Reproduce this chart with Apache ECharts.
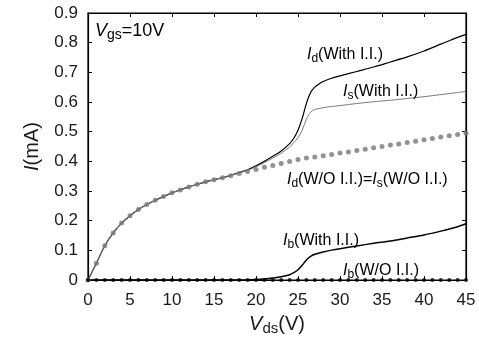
<!DOCTYPE html>
<html>
<head>
<meta charset="utf-8">
<script src="https://cdn.jsdelivr.net/npm/echarts@6/dist/echarts.min.js"></script>
<style>html,body{margin:0;padding:0;background:#fff}#c{width:479px;height:341px}</style>
</head>
<body>
<div id="c"></div>
<script>
// ---- data ----
var xTicks = [0, 5, 10, 15, 20, 25, 30, 35, 40, 45];
var vdsWO = [];
for (var k = 0; k <= 45; k++) vdsWO.push(k);
var idWO = [0, 0.057, 0.116, 0.159, 0.192, 0.217, 0.238, 0.255, 0.269, 0.282, 0.294, 0.304, 0.314, 0.323, 0.331, 0.338, 0.345,
  0.352, 0.359, 0.366, 0.373, 0.380, 0.386, 0.393, 0.400, 0.406, 0.411, 0.415, 0.419, 0.423, 0.428,
  0.432, 0.437, 0.441, 0.446, 0.450, 0.455, 0.459, 0.464, 0.468, 0.473, 0.477, 0.482, 0.486, 0.491, 0.495];
var ibWO = [0,0,0,0,0,0,0,0,0,0,0,0,0,0,0,0,0,0,0,0,0,0,0,0,0,0,0,0,0,0,0,0,0,0,0,0,0,0,0,0,0,0,0,0,0,0];

var vdsWith = [0,1,2,3,4,5,6,7,8,9,10,11,12,13,14,15,16,17,18,19,20,21,22,23,24,24.5,25,25.5,26,26.5,27,27.5,28,29,30,32,34,36,38,40,42,44,45];
var idWith = [0, 0.057, 0.116, 0.159, 0.192, 0.217, 0.238, 0.255, 0.269, 0.282, 0.294, 0.304, 0.314, 0.323, 0.331, 0.338, 0.345,
  0.353, 0.362, 0.372, 0.385, 0.400, 0.417, 0.435, 0.460, 0.478, 0.505, 0.545, 0.595, 0.632, 0.650, 0.661, 0.669, 0.680, 0.688,
  0.703, 0.718, 0.735, 0.752, 0.772, 0.795, 0.818, 0.828];
var isWith = [0, 0.057, 0.116, 0.159, 0.192, 0.217, 0.238, 0.255, 0.269, 0.282, 0.294, 0.304, 0.314, 0.323, 0.331, 0.338, 0.345,
  0.353, 0.361, 0.370, 0.382, 0.396, 0.411, 0.428, 0.448, 0.463, 0.480, 0.505, 0.542, 0.566, 0.575, 0.578, 0.581, 0.585, 0.588,
  0.595, 0.601, 0.606, 0.612, 0.618, 0.625, 0.632, 0.636];
var ibWith = [0,0,0,0,0,0,0,0,0,0,0,0,0,0,0,0,0,0,0,0.001,0.002,0.004,0.007,0.011,0.018,0.025,0.035,0.050,0.068,0.080,0.087,0.091,0.095,0.101,0.106,
  0.115,0.124,0.132,0.142,0.152,0.165,0.180,0.190];

function pairs(xs, ys) { return xs.map(function (x, i) { return [x, ys[i]]; }); }

var FF = '"Liberation Sans", Arial, sans-serif';
var C = '#1a1a1a';
function richSz(sz) {
  return {
    i: { fontFamily: FF, fontSize: sz, fontStyle: 'italic', color: C, lineHeight: sz + 4, verticalAlign: 'middle' },
    s: { fontFamily: FF, fontSize: Math.round(sz * 0.75), color: C, lineHeight: Math.round(sz * 0.75) + 1, verticalAlign: 'bottom' },
    n: { fontFamily: FF, fontSize: sz, color: C, lineHeight: sz + 4, verticalAlign: 'middle' }
  };
}
function note(txt, x, y, r) {
  return { type: 'text', x: x, y: y, z: 100, style: { text: txt, rich: r || richSz(16), verticalAlign: 'middle', align: 'left' } };
}

var chart = echarts.init(document.getElementById('c'));
chart.setOption({
  animation: false,
  backgroundColor: '#fff',
  grid: { left: 88, right: 13, top: 13, bottom: 53, show: true, borderColor: '#000', borderWidth: 1.2, backgroundColor: 'transparent' },
  xAxis: [{
    type: 'value', min: 0, max: 45, interval: 5, position: 'bottom',
    name: '{i|V}{s|ds}{n|(V)}', nameLocation: 'middle', nameGap: 29,
    nameTextStyle: { rich: richSz(20) },
    axisLine: { show: true, onZero: false, lineStyle: { color: '#000', width: 1.2 } },
    axisTick: { show: true, inside: true, length: 4, lineStyle: { color: '#000' } },
    axisLabel: { fontFamily: FF, fontSize: 17, color: C, margin: 12 },
    splitLine: { show: false }
  }, {
    type: 'value', min: 0, max: 45, interval: 5, position: 'top',
    axisLine: { show: true, onZero: false, lineStyle: { color: '#000', width: 1.2 } },
    axisTick: { show: true, inside: true, length: 4, lineStyle: { color: '#000' } },
    axisLabel: { show: false }, splitLine: { show: false }
  }],
  yAxis: [{
    type: 'value', min: 0, max: 0.9, interval: 0.1, position: 'left',
    name: '{i|I}{n|(mA)}', nameLocation: 'middle', nameGap: 44, nameRotate: 90,
    nameTextStyle: { rich: richSz(20) },
    axisLine: { show: true, onZero: false, lineStyle: { color: '#000', width: 1.2 } },
    axisTick: { show: true, inside: true, length: 4, lineStyle: { color: '#000' } },
    axisLabel: { fontFamily: FF, fontSize: 17, color: C, margin: 10 },
    splitLine: { show: false }
  }, {
    type: 'value', min: 0, max: 0.9, interval: 0.1, position: 'right',
    axisLine: { show: true, onZero: false, lineStyle: { color: '#000', width: 1.2 } },
    axisTick: { show: true, inside: true, length: 4, lineStyle: { color: '#000' } },
    axisLabel: { show: false }, splitLine: { show: false }
  }],
  series: [
    { type: 'line', name: 'Id With', data: pairs(vdsWith, idWith), showSymbol: false, symbol: 'none', smooth: 0.3,
      lineStyle: { color: '#000', width: 1.2 }, z: 3 },
    { type: 'line', name: 'Is With', data: pairs(vdsWith, isWith), showSymbol: false, symbol: 'none', smooth: 0.3,
      lineStyle: { color: '#7a7a7a', width: 1 }, z: 4 },
    { type: 'line', name: 'Ib With', data: pairs(vdsWith, ibWith), showSymbol: false, symbol: 'none', smooth: 0.3,
      lineStyle: { color: '#000', width: 1.5 }, z: 3 },
    { type: 'scatter', name: 'Id W/O', data: pairs(vdsWO, idWO), symbol: 'circle', symbolSize: 5,
      itemStyle: { color: '#777' }, z: 5 },
    { type: 'scatter', name: 'Ib W/O', data: pairs(vdsWO, ibWO), symbol: 'circle', symbolSize: 4,
      itemStyle: { color: '#000' }, z: 5 }
  ],
  graphic: [
    note('{i|V}{s|gs}{n|=10V}', 95, 31, richSz(18)),
    note('{i|I}{s|d}{n|(With I.I.)}', 307, 55),
    note('{i|I}{s|s}{n|(With I.I.)}', 343, 92),
    note('{i|I}{s|d}{n|(W/O I.I.)=}{i|I}{s|s}{n|(W/O I.I.)}', 287, 180),
    note('{i|I}{s|b}{n|(With I.I.)}', 283, 241),
    note('{i|I}{s|b}{n|(W/O I.I.)}', 343, 271)
  ]
});
</script>
</body>
</html>
